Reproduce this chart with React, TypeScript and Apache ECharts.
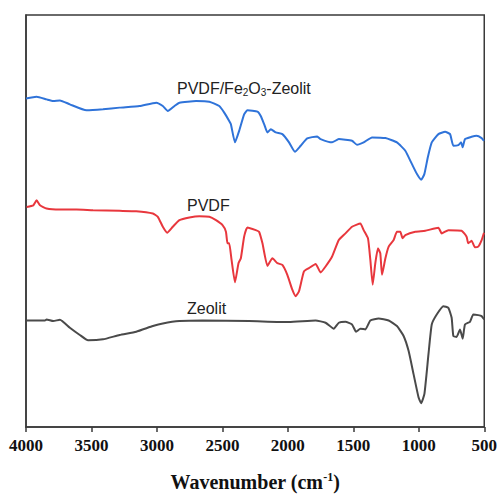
import React, { useEffect, useRef } from "react";
import * as echarts from "echarts";

// [wavenumber (cm-1), offset transmittance (a.u.)]
const compositeSpectrum: number[][] = [
  [4000, 331], [3919, 332.7], [3843, 330], [3792, 328.3], [3741, 329], [3665, 325],
  [3538, 319], [3412, 320], [3285, 321.7], [3133, 323.3], [3005, 326.7], [2955, 323.3],
  [2917, 318.3], [2866, 323.3], [2828, 326.7], [2701, 328.3], [2600, 327.7], [2524, 323.3],
  [2486, 316.7], [2448, 308.3], [2435, 305], [2404, 286.7], [2372, 298.3], [2334, 315],
  [2309, 319], [2232, 317.7], [2207, 313.3], [2181, 305], [2156, 296.7], [2130, 300],
  [2092, 296.7], [2042, 295], [1991, 286.7], [1946, 277.3], [1902, 283.3], [1852, 290.7],
  [1776, 292.7], [1750, 290], [1662, 286.7], [1611, 290], [1510, 288.3], [1472, 284.3],
  [1421, 286.7], [1357, 291.7], [1255, 291], [1167, 286.7], [1103, 278.3], [1053, 265],
  [1015, 255], [982, 249], [957, 255], [931, 271.7], [901, 286.7], [850, 295],
  [799, 297.3], [761, 295], [736, 283.3], [698, 284], [677, 286.7], [665, 281.7],
  [647, 290], [597, 292.3], [559, 293.3], [520, 291], [502, 288.3]
];

const pvdfSpectrum: number[][] = [
  [3995, 221.7], [3944, 223.3], [3919, 228.3], [3893, 223.3], [3843, 220], [3741, 219],
  [3614, 219], [3488, 218.3], [3285, 217.7], [3158, 217.3], [3031, 215], [2993, 211.7],
  [2955, 201.7], [2922, 195.7], [2879, 201.7], [2828, 208.3], [2752, 211], [2676, 212.3],
  [2600, 211.7], [2549, 208.3], [2499, 203.3], [2473, 196.7], [2461, 185], [2448, 185],
  [2430, 168.3], [2404, 145.7], [2377, 165], [2359, 170], [2334, 191.7], [2309, 201],
  [2245, 198.3], [2220, 196.7], [2194, 185], [2156, 162.3], [2118, 170], [2080, 165],
  [2042, 163.3], [2004, 153.3], [1966, 138.3], [1940, 131.7], [1915, 136.7], [1877, 156.7],
  [1839, 160], [1788, 164.3], [1750, 155.7], [1712, 161.7], [1662, 171.7], [1611, 188.3],
  [1560, 195], [1510, 201.7], [1446, 205], [1421, 198.3], [1388, 190], [1370, 168.3],
  [1352, 143.3], [1332, 165], [1312, 180], [1294, 175], [1281, 153.3], [1255, 170],
  [1230, 181.7], [1192, 188.3], [1167, 196.7], [1141, 196.7], [1124, 190], [1103, 193.3],
  [1027, 196.7], [951, 197.7], [850, 200.7], [825, 195], [774, 198.3], [673, 197.7],
  [635, 191.7], [622, 185], [597, 187.7], [571, 181], [546, 181.7], [520, 188.3], [502, 195.7]
];

const zeoliteSpectrum: number[][] = [
  [3995, 107.3], [3855, 107.3], [3843, 108.3], [3792, 106.7], [3741, 108], [3665, 100],
  [3589, 92.7], [3526, 87.3], [3412, 88.3], [3285, 92.7], [3158, 96], [3031, 101.7],
  [2955, 104.3], [2828, 106.7], [2651, 107.3], [2296, 106.7], [1991, 105.7], [1788, 107.3],
  [1712, 105], [1649, 99], [1611, 105], [1560, 106], [1510, 103.3], [1479, 96],
  [1446, 99], [1408, 98.3], [1370, 107.3], [1307, 109.3], [1230, 107.3], [1167, 101.7],
  [1116, 91.7], [1078, 76.7], [1040, 53.3], [1002, 30], [982, 24], [957, 33.3],
  [926, 73.3], [901, 103.3], [863, 113.3], [812, 121.7], [774, 120], [749, 110],
  [736, 91.7], [711, 90.7], [685, 98.3], [665, 89], [647, 103.3], [609, 106],
  [584, 113.3], [546, 112.7], [520, 111.7], [500, 108.3]
];

const xTicks = { min: 500, max: 4000, interval: 500 };
const seriesNames = ["PVDF/Fe2O3-Zeolit", "PVDF", "Zeolit"];

export default function App() {
  const ref = useRef<HTMLDivElement>(null);
  useEffect(() => {
    if (!ref.current) return;
    const chart = echarts.init(ref.current, null, { renderer: "svg" });
    const lineSeries = (name: string, data: number[][], color: string) => ({
      name,
      type: "line",
      data,
      showSymbol: false,
      smooth: 0.15,
      lineStyle: { color, width: 2 },
      itemStyle: { color },
    });
    chart.setOption({
      animation: false,
      backgroundColor: "#ffffff",
      grid: {
        left: 26,
        right: 14,
        top: 15,
        bottom: 68,
        show: true,
        borderColor: "#3a3a3a",
        borderWidth: 1.5,
        backgroundColor: "transparent",
      },
      xAxis: {
        type: "value",
        inverse: true,
        min: xTicks.min,
        max: xTicks.max,
        interval: xTicks.interval,
        axisLine: { show: true, lineStyle: { color: "#3a3a3a", width: 1.5 } },
        axisTick: { show: true, inside: false, length: 5, lineStyle: { color: "#3a3a3a", width: 1.5 } },
        axisLabel: {
          color: "#111",
          fontFamily: "Liberation Serif, Times New Roman, serif",
          fontWeight: "bold",
          fontSize: 17,
          margin: 10,
          formatter: (v: number) => String(v),
        },
        splitLine: { show: false },
        name: "Wavenumber (cm{sup|-1})",
        nameLocation: "middle",
        nameGap: 44,
        nameTextStyle: {
          color: "#111",
          fontFamily: "Liberation Serif, Times New Roman, serif",
          fontWeight: "bold",
          fontSize: 20,
          lineHeight: 22,
          rich: {
            sup: {
              fontFamily: "Liberation Serif, Times New Roman, serif",
              fontWeight: "bold",
              fontSize: 12,
              lineHeight: 12,
              verticalAlign: "top",
              color: "#111",
            },
          },
        },
      },
      yAxis: {
        type: "value",
        min: 0,
        max: 415,
        axisLine: { show: true, lineStyle: { color: "#3a3a3a", width: 1.5 } },
        axisTick: { show: false },
        axisLabel: { show: false },
        splitLine: { show: false },
      },
      series: [
        lineSeries(seriesNames[0], compositeSpectrum, "#2f73d9"),
        lineSeries(seriesNames[1], pvdfSpectrum, "#e8373d"),
        lineSeries(seriesNames[2], zeoliteSpectrum, "#4a4a4a"),
      ],
      graphic: [
        {
          type: "text",
          left: 177,
          top: 79,
          style: {
            text: "PVDF/Fe{sub|2}O{sub|3}-Zeolit",
            fill: "#222",
            fontSize: 16,
            fontFamily: "Liberation Sans, Arial, sans-serif",
            lineHeight: 18,
            rich: {
              sub: {
                fontSize: 10,
                lineHeight: 10,
                verticalAlign: "bottom",
                fill: "#222",
                fontFamily: "Liberation Sans, Arial, sans-serif",
              },
            },
          },
        },
        {
          type: "text",
          left: 187,
          top: 197,
          style: {
            text: "PVDF",
            fill: "#222",
            fontSize: 16,
            fontFamily: "Liberation Sans, Arial, sans-serif",
          },
        },
        {
          type: "text",
          left: 187,
          top: 300,
          style: {
            text: "Zeolit",
            fill: "#222",
            fontSize: 16,
            fontFamily: "Liberation Sans, Arial, sans-serif",
          },
        },
      ],
    });
    return () => chart.dispose();
  }, []);
  return <div ref={ref} style={{ width: 500, height: 498, position: "absolute", left: 0, top: 0 }} />;
}
